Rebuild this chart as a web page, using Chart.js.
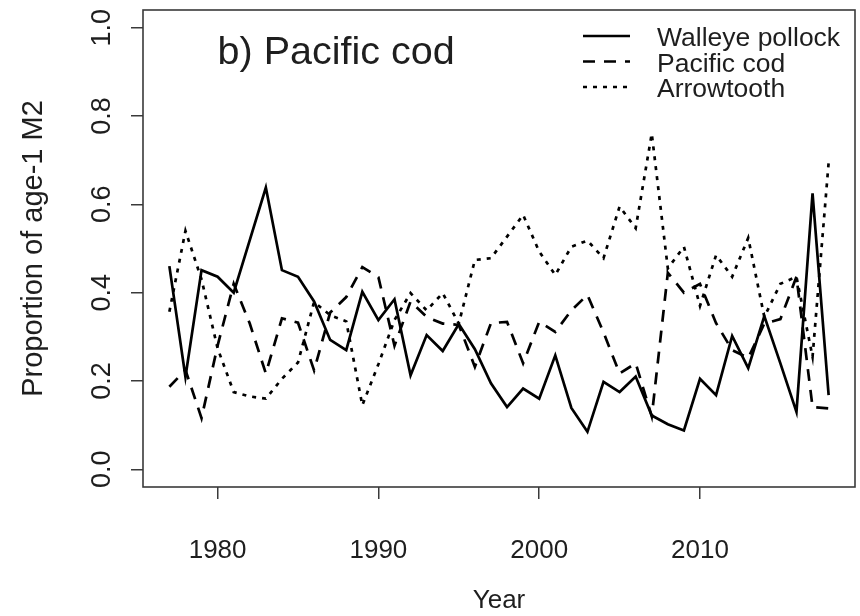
<!DOCTYPE html>
<html><head><meta charset="utf-8">
<script src="https://cdn.jsdelivr.net/npm/chart.js@4/dist/chart.umd.min.js"></script>
<style>html,body{margin:0;padding:0;background:#fff}#wrap{width:860px;height:616px}</style>
</head><body><div id="wrap"><canvas id="c" width="860" height="616"></canvas></div>
<script>
const years = [1977,1978,1979,1980,1981,1982,1983,1984,1985,1986,1987,1988,1989,1990,1991,1992,1993,1994,1995,1996,1997,1998,1999,2000,2001,2002,2003,2004,2005,2006,2007,2008,2009,2010,2011,2012,2013,2014,2015,2016,2017,2018];
const pollock = [0.46,0.209,0.451,0.436,0.40,0.519,0.638,0.451,0.436,0.38,0.293,0.27,0.402,0.338,0.385,0.213,0.304,0.268,0.329,0.272,0.195,0.141,0.183,0.16,0.258,0.139,0.085,0.198,0.175,0.21,0.122,0.102,0.088,0.205,0.168,0.302,0.229,0.347,0.24,0.13,0.625,0.168];
const cod = [0.187,0.225,0.116,0.28,0.42,0.33,0.217,0.342,0.332,0.224,0.355,0.39,0.458,0.435,0.28,0.38,0.345,0.33,0.327,0.232,0.331,0.334,0.24,0.334,0.311,0.36,0.395,0.31,0.217,0.24,0.12,0.445,0.40,0.42,0.331,0.27,0.252,0.33,0.34,0.436,0.141,0.138];
const arrowtooth = [0.357,0.54,0.43,0.274,0.175,0.165,0.16,0.205,0.242,0.379,0.349,0.335,0.145,0.238,0.338,0.399,0.36,0.399,0.33,0.474,0.478,0.527,0.576,0.493,0.44,0.504,0.518,0.478,0.595,0.546,0.76,0.455,0.504,0.37,0.485,0.436,0.524,0.345,0.42,0.436,0.255,0.694];
const seriesNames = ['Walleye pollock','Pacific cod','Arrowtooth'];
const xTicks = [1980,1990,2000,2010];
const yTicks = [0,0.2,0.4,0.6,0.8,1.0];
const yTickLabels = ['0.0','0.2','0.4','0.6','0.8','1.0'];
const panelTitle = 'b) Pacific cod';
const xTitle = 'Year';
const yTitle = 'Proportion of age-1 M2';

const FONT = "'Liberation Sans', Arial, sans-serif";
const INK = '#1e1e1e';
const AXIS = '#3a3a3a';

function pts(vals){ return years.map((y,i)=>({x:y,y:vals[i]})); }

const decor = {
  id:'decor',
  afterDraw(chart){
    const {ctx, chartArea:a, scales:{x, y}} = chart;
    ctx.save();
    // box
    ctx.strokeStyle = AXIS; ctx.lineWidth = 1.6; ctx.setLineDash([]);
    ctx.strokeRect(a.left, a.top, a.right - a.left, a.bottom - a.top);
    // y tick labels (rotated like R)
    ctx.fillStyle = INK;
    ctx.font = "27px " + FONT;
    ctx.textAlign = 'center'; ctx.textBaseline = 'middle';
    yTicks.forEach((v,i)=>{
      ctx.save();
      ctx.translate(a.left - 40, y.getPixelForValue(v));
      ctx.rotate(-Math.PI/2);
      ctx.fillText(yTickLabels[i], 0, 0);
      ctx.restore();
    });
    // panel title
    ctx.font = "39.5px " + FONT;
    ctx.textAlign = 'left'; ctx.textBaseline = 'alphabetic';
    ctx.fillText(panelTitle, x.getPixelForValue(1980), y.getPixelForValue(0.918));
    // legend
    ctx.font = "26.5px " + FONT;
    const lx0 = a.right - 272, lx1 = a.right - 225, tx = a.right - 198;
    chart.data.datasets.forEach((ds,i)=>{
      const cy = a.top + 26 + i*25.5;
      ctx.strokeStyle = ds.borderColor; ctx.lineWidth = ds.borderWidth;
      ctx.setLineDash(ds.borderDash || []);
      ctx.lineCap = 'butt';
      ctx.beginPath(); ctx.moveTo(lx0, cy); ctx.lineTo(lx1, cy); ctx.stroke();
      ctx.setLineDash([]);
      ctx.fillText(ds.label, tx, cy + 10);
    });
    ctx.restore();
  }
};

new Chart(document.getElementById('c'), {
  type:'line',
  data:{ datasets:[
    {label:seriesNames[0], data:pts(pollock), borderColor:'#000', borderWidth:2.7, borderDash:[], pointRadius:0, tension:0, fill:false},
    {label:seriesNames[1], data:pts(cod), borderColor:'#000', borderWidth:2.7, borderDash:[12,9], pointRadius:0, tension:0, fill:false},
    {label:seriesNames[2], data:pts(arrowtooth), borderColor:'#000', borderWidth:2.7, borderDash:[4,6], pointRadius:0, tension:0, fill:false}
  ]},
  options:{
    responsive:false, animation:false, devicePixelRatio:1,
    layout:{padding:{left:0, right:5, top:10, bottom:0}},
    plugins:{legend:{display:false}, tooltip:{enabled:false}},
    scales:{
      x:{type:'linear', min:1975.36, max:2019.64,
        afterBuildTicks:s=>{ s.ticks = xTicks.map(v=>({value:v})); },
        afterFit:s=>{ s.height = 129; },
        grid:{drawOnChartArea:false, drawTicks:true, tickLength:12, color:AXIS, lineWidth:1.5},
        border:{display:false},
        ticks:{color:INK, font:{family:FONT, size:26}, padding:36, maxRotation:0, autoSkip:false, callback:v=>String(v)},
        title:{display:true, text:xTitle, color:INK, font:{family:FONT, size:26}, padding:{top:0,bottom:0}}
      },
      y:{type:'linear', min:-0.04, max:1.04,
        afterBuildTicks:s=>{ s.ticks = yTicks.map(v=>({value:v})); },
        afterFit:s=>{ s.width = 143; },
        grid:{drawOnChartArea:false, drawTicks:true, tickLength:12, color:AXIS, lineWidth:1.5},
        border:{display:false},
        ticks:{display:false},
        title:{display:true, text:yTitle, color:INK, font:{family:FONT, size:29}, padding:{top:17,bottom:0}}
      }
    }
  },
  plugins:[decor]
});
</script></body></html>
